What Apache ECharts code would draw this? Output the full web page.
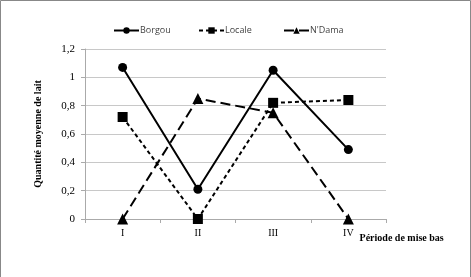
<!DOCTYPE html>
<html><head><meta charset="utf-8">
<script src="https://cdn.jsdelivr.net/npm/echarts@6/dist/echarts.min.js"></script>
<style>html,body{margin:0;padding:0;background:#fff}#c{width:471px;height:277px}</style>
</head><body><div id="c"></div>
<script>
var categories = ['I', 'II', 'III', 'IV'];
var seriesNames = ['Borgou', 'Locale', "N'Dama"];
var borgou = [1.07, 0.21, 1.05, 0.49];
var locale = [0.72, 0, 0.82, 0.84];
var ndama = [0, 0.85, 0.75, 0];
var yTicks = [0, 0.2, 0.4, 0.6, 0.8, 1, 1.2];

var legendLefts = [111, 196, 281];
var chart = echarts.init(document.getElementById('c'));
chart.setOption({
  animation: false,
  backgroundColor: '#fff',
  graphic: [{type: 'rect', shape: {x: 0.5, y: 0.5, width: 470, height: 280}, style: {fill: 'none', stroke: '#888', lineWidth: 1}}],
  legend: seriesNames.map(function(n, i){
    return {
      top: 24, left: legendLefts[i], itemWidth: 25, itemHeight: 8, padding: 2,
      textStyle: {fontFamily: 'Open Sans', fontSize: 9, color: '#444', padding: [0, 0, 0, -4]},
      data: [n]
    };
  }),
  grid: {left: 85, right: 85, top: 49, bottom: 58},
  xAxis: {
    type: 'category', data: categories, boundaryGap: true,
    name: 'Période de mise bas', nameLocation: 'end', nameGap: 0,
    nameTextStyle: {fontFamily: 'Liberation Serif', fontSize: 10, fontWeight: 'bold', color: '#000', padding: [14, 0, 0, -108], align: 'left', verticalAlign: 'top'},
    axisLine: {lineStyle: {color: '#aaa', width: 1}},
    axisTick: {show: true, length: 4, lineStyle: {color: '#aaa'}},
    axisLabel: {fontFamily: 'Liberation Serif', fontSize: 10, color: '#000', margin: 9}
  },
  yAxis: {
    type: 'value', min: 0, max: 1.2, interval: 0.2,
    name: 'Quantité moyenne de lait', nameLocation: 'middle', nameGap: 42, nameRotate: 90,
    nameTextStyle: {fontFamily: 'Liberation Serif', fontSize: 10, fontWeight: 'bold', color: '#000'},
    axisLine: {show: true, lineStyle: {color: '#aaa'}},
    axisTick: {show: true, length: 4, lineStyle: {color: '#aaa'}},
    splitLine: {lineStyle: {color: '#c8c8c8', width: 1}},
    axisLabel: {fontFamily: 'Liberation Serif', fontSize: 11, color: '#000', margin: 10,
      formatter: function(v){ return String(Math.round(v*10)/10).replace('.', ','); }}
  },
  series: [
    {name: seriesNames[0], type: 'line', data: borgou, symbol: 'circle', symbolSize: 9,
     lineStyle: {color: '#000', width: 2, type: 'solid'}, itemStyle: {color: '#000'}},
    {name: seriesNames[1], type: 'line', data: locale, symbol: 'rect', symbolSize: 10,
     lineStyle: {color: '#000', width: 2, type: [4, 3]}, itemStyle: {color: '#000'}},
    {name: seriesNames[2], type: 'line', data: ndama, symbol: 'triangle', symbolSize: 11,
     lineStyle: {color: '#000', width: 2, type: [10, 5]}, itemStyle: {color: '#000'}}
  ]
});
</script></body></html>
